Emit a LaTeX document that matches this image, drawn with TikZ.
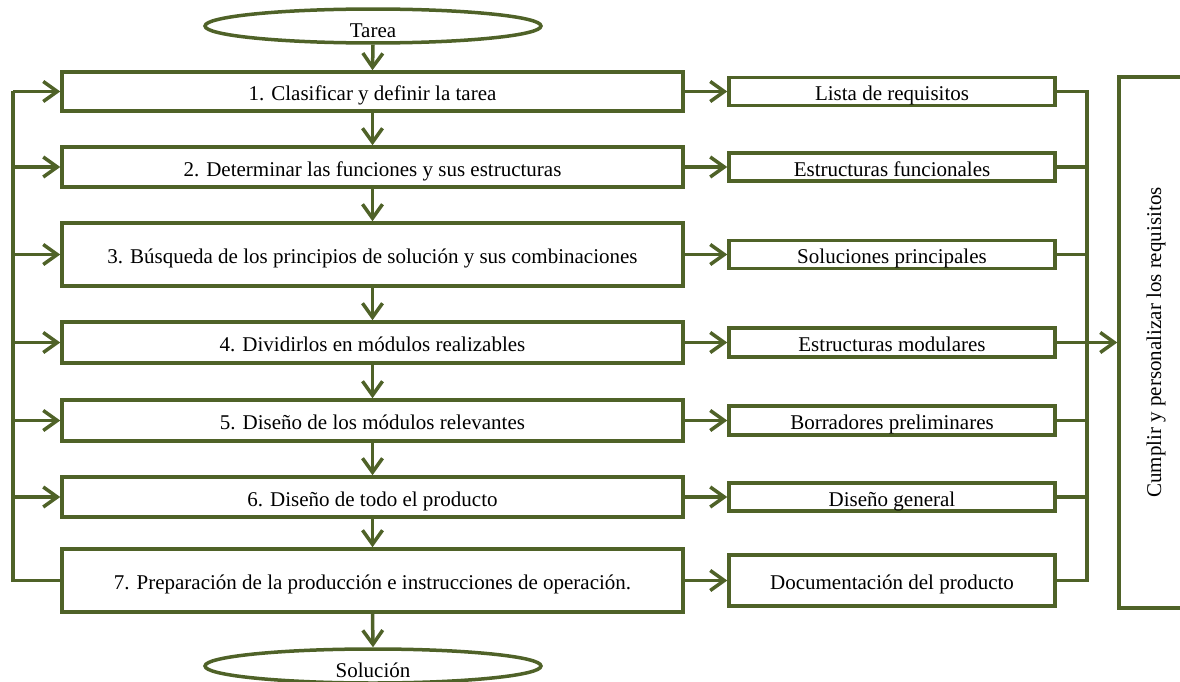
\documentclass[tikz,border=0pt]{standalone}
\usepackage{fontspec}
\setmainfont{Liberation Serif}
\usetikzlibrary{arrows.meta,shapes.geometric}
\definecolor{olv}{HTML}{4F6228}
\begin{document}
\begin{tikzpicture}[x=1pt,y=-1pt,
  every node/.style={font=\fontsize{21}{25}\selectfont},
  ln/.style={draw=olv,line width=3.5pt},
  arr/.style={ln,-{Straight Barb[length=14pt,width=20pt]}},
  lbox/.style={ln,fill=white,rectangle,minimum width=621pt,inner sep=0pt,text height=22pt,text depth=4pt},
  rbox/.style={ln,fill=white,rectangle,minimum width=326pt,inner sep=0pt,text height=22pt,text depth=4pt},
  term/.style={ln,fill=white,ellipse,minimum width=336pt,minimum height=32pt,inner sep=0pt,text depth=0pt}]
\useasboundingbox (0,0) rectangle (1180,682);
% terminals
\node[term,text height=24pt] (tarea) at (373,26) {Tarea};
\node[term,minimum height=34pt,text height=22pt] (sol) at (373,666) {Solución};
% left column
\node[lbox,minimum height=39pt] (b1) at (372.5,91.5) {1. Clasificar y definir la tarea};
\node[lbox,minimum height=40pt] (b2) at (372.5,167) {2. Determinar las funciones y sus estructuras};
\node[lbox,minimum height=63pt] (b3) at (372.5,254.5) {3. Búsqueda de los principios de solución y sus combinaciones};
\node[lbox,minimum height=41pt] (b4) at (372.5,342.5) {4. Dividirlos en módulos realizables};
\node[lbox,minimum height=41pt] (b5) at (372.5,420.5) {5. Diseño de los módulos relevantes};
\node[lbox,minimum height=40pt] (b6) at (372.5,497) {6. Diseño de todo el producto};
\node[lbox,minimum height=63pt] (b7) at (372.5,580.5) {7. Preparación de la producción e instrucciones de operación.};
% right column
\node[rbox,minimum height=28pt] (r1) at (892,91.5) {Lista de requisitos};
\node[rbox,minimum height=28pt] (r2) at (892,167) {Estructuras funcionales};
\node[rbox,minimum height=28pt] (r3) at (892,254.5) {Soluciones principales};
\node[rbox,minimum height=29pt] (r4) at (892,342.5) {Estructuras modulares};
\node[rbox,minimum height=29pt] (r5) at (892,420.5) {Borradores preliminares};
\node[rbox,minimum height=28pt] (r6) at (892,497) {Diseño general};
\node[rbox,minimum height=51pt] (r7) at (892,580.5) {Documentación del producto};
% tall box
\node[ln,fill=white,rectangle,minimum width=72pt,minimum height=531pt,inner sep=0pt] (req) at (1155,342.5) {};
\node[rotate=90] (reqt) at (1156,342.5) {Cumplir y personalizar los requisitos};
% main flow
\draw[arr] (tarea.south) -- (b1.north);
\draw[arr] (b1.south) -- (b2.north);
\draw[arr] (b2.south) -- (b3.north);
\draw[arr] (b3.south) -- (b4.north);
\draw[arr] (b4.south) -- (b5.north);
\draw[arr] (b5.south) -- (b6.north);
\draw[arr] (b6.south) -- (b7.north);
\draw[arr] (b7.south) -- (sol.north);
% left to right
\foreach \i in {1,...,7}{\draw[arr] (b\i.east) -- (r\i.west);}
% feedback loop on the left
\coordinate (lt) at (13,91.5);
\draw[ln] (b7.west) -- (b7.west -| lt) -- (lt);
\draw[arr] (lt) -- (b1.west);
\foreach \i in {2,...,6}{\draw[arr] (b\i.west -| lt) -- (b\i.west);}
% collecting bus on the right
\coordinate (bt) at (1087,91.5);
\draw[ln] (r1.east) -- (bt) -- (bt |- r7.east) -- (r7.east);
\foreach \i in {2,3,5,6}{\draw[ln] (r\i.east) -- (r\i.east -| bt);}
\draw[arr] (r4.east) -- (req.west |- r4.east);
\end{tikzpicture}
\end{document}
